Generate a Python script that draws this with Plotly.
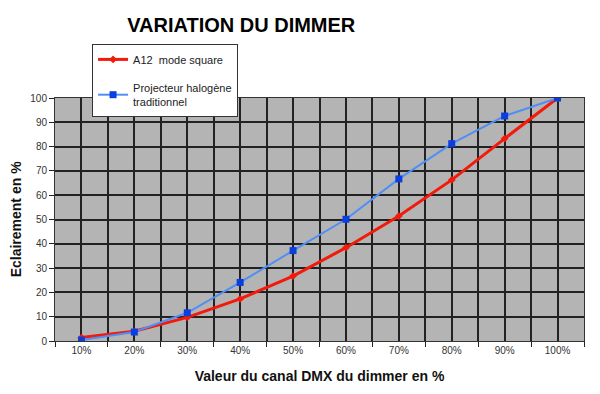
import plotly.graph_objects as go

categories = ["10%", "20%", "30%", "40%", "50%", "60%", "70%", "80%", "90%", "100%"]
a12_values = [1.4, 4.0, 9.7, 17.3, 26.7, 38.4, 51.4, 66.3, 83.3, 100.0]
halogen_values = [0.4, 3.7, 11.6, 24.1, 37.2, 50.1, 66.7, 81.2, 92.6, 100.0]
y_ticks = [0, 10, 20, 30, 40, 50, 60, 70, 80, 90, 100]

xpos = list(range(1, len(categories) + 1))
FONT = "Liberation Sans, Arial, sans-serif"

fig = go.Figure()
fig.add_trace(go.Scatter(
    x=xpos, y=a12_values, name="A12  mode square", mode="lines+markers", legendgroup="a",
    line=dict(color="#f21a0a", width=3),
    marker=dict(symbol="diamond", size=6, color="#f21a0a"),
))
fig.add_trace(go.Scatter(
    x=xpos, y=halogen_values, name="Projecteur halogène<br>traditionnel", mode="lines+markers",
    legendgroup="b",
    line=dict(color="#4f8ff5", width=2),
    marker=dict(symbol="square", size=7, color="#0a3ee0"),
))

fig.update_layout(
    width=592, height=386,
    margin=dict(l=47, r=16, t=90, b=53, autoexpand=False),
    paper_bgcolor="white", plot_bgcolor="#b4b4b4",
    font=dict(family=FONT, color="#222", size=10),
    title=dict(text="<b>VARIATION DU DIMMER</b>", x=0.394, xanchor="center",
               y=0.974, yanchor="top", font=dict(size=20, color="black", family=FONT)),
    showlegend=True,
    legend=dict(x=0.142, y=0.907, xref="container", yref="container",
                xanchor="left", yanchor="top",
                bgcolor="white", bordercolor="#333", borderwidth=1,
                font=dict(size=11, color="#222", family=FONT),
                tracegroupgap=10, itemwidth=30),
    xaxis=dict(
        range=[0.5, 10.5], tickvals=xpos, ticktext=categories,
        showgrid=True, gridcolor="#222", gridwidth=1.5,
        ticks="", zeroline=False, showline=True, linecolor="#333", linewidth=1, mirror=True,
        tickfont=dict(size=10, color="#333"),
        minor=dict(tickvals=[i + 0.5 for i in range(0, 11)], showgrid=True,
                   gridcolor="#222", gridwidth=1.5, ticks="outside", ticklen=5, tickcolor="#222"),
        title=dict(text="<b>Valeur du canal DMX du dimmer en %</b>", font=dict(size=14, color="#111"), standoff=16),
    ),
    yaxis=dict(
        range=[0, 100], tickvals=y_ticks,
        showgrid=True, gridcolor="#222", gridwidth=1.5,
        ticks="outside", ticklen=5, tickcolor="#222", zeroline=False,
        showline=True, linecolor="#333", linewidth=1, mirror=True,
        tickfont=dict(size=10, color="#333"),
    ),
    annotations=[dict(text="<b>Eclairement en %</b>", xref="paper", yref="paper",
                      x=-0.074, y=0.5, xanchor="center", yanchor="middle", textangle=-90,
                      showarrow=False, font=dict(size=14, color="#111", family=FONT))],
)

fig.write_html("out.html")
